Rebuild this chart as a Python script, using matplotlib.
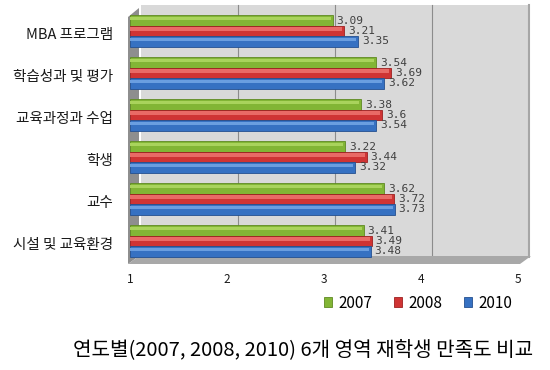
import matplotlib
matplotlib.use("Agg")
import matplotlib.pyplot as plt
import numpy as np
from matplotlib.patches import Polygon, Rectangle
import matplotlib.transforms as mtransforms

plt.rcParams['font.family'] = ['Noto Sans CJK KR', 'DejaVu Sans']

categories = ["MBA 프로그램", "학습성과 및 평가", "교육과정과 수업", "학생", "교수", "시설 및 교육환경"]
series_names = ["2007", "2008", "2010"]
v2007 = [3.09, 3.54, 3.38, 3.22, 3.62, 3.41]
v2008 = [3.21, 3.69, 3.60, 3.44, 3.72, 3.49]
v2010 = [3.35, 3.62, 3.54, 3.32, 3.73, 3.48]
label2007 = ["3.09", "3.54", "3.38", "3.22", "3.62", "3.41"]
label2008 = ["3.21", "3.69", "3.6", "3.44", "3.72", "3.49"]
label2010 = ["3.35", "3.62", "3.54", "3.32", "3.73", "3.48"]
xticks = [1, 2, 3, 4, 5]
caption = "연도별(2007, 2008, 2010) 6개 영역 재학생 만족도 비교"

base_colors = ["#82b535", "#cf3434", "#3671c2"]
light_colors = ["#a9d35c", "#e96a66", "#6a9ee0"]
dark_colors = ["#5f8a22", "#9e2020", "#24508f"]

W, H = 550, 370
fig = plt.figure(figsize=(W / 100, H / 100), dpi=100)
fig.patch.set_facecolor("white")

left_px, right_px = 130, 518
top_px, bot_px = 10, 262
ax = fig.add_axes([left_px / W, 1 - bot_px / H, (right_px - left_px) / W, (bot_px - top_px) / H])
ax.set_xlim(1, 5)
n = len(categories)
ax.set_ylim(n - 0.5, -0.5)
ax.axis("off")

# 3D offset for back wall
off = mtransforms.ScaledTranslation(11 / 100, 5 / 100, fig.dpi_scale_trans)
back = ax.transData + off
ax.add_patch(Rectangle((1, -0.5), 4, n, transform=back, facecolor="#d9d9d9",
                       edgecolor="none", zorder=0, clip_on=False))
ax.plot([5, 5], [-0.5, n - 0.5], transform=back, color="#a6a6a6", lw=1.5, zorder=0.5, clip_on=False)
for xv in xticks[1:-1]:
    ax.plot([xv, xv], [-0.5, n - 0.5], transform=back, color="#8c8c8c", lw=0.8, zorder=0.6, clip_on=False)

def px(x, y):
    return (x / W, 1 - y / H)

left_wall = Polygon([px(128, 17), px(139, 8), px(139, 256), px(128, 264)], closed=True,
                    transform=fig.transFigure, facecolor="#8e8e8e", edgecolor="none",
                    zorder=1, clip_on=False)
ax.add_patch(left_wall)
floor = Polygon([px(128, 264), px(139, 256), px(531, 256), px(520, 264)], closed=True,
                transform=fig.transFigure, facecolor="#a8a8a8", edgecolor="none",
                zorder=1, clip_on=False)
ax.add_patch(floor)

series = [v2007, v2008, v2010]
labels = [label2007, label2008, label2010]
offsets = [-0.25, 0.0, 0.25]
bh = 0.25
y = np.arange(n)
for k in range(3):
    yy = y + offsets[k]
    ax.barh(yy, np.array(series[k]) - 1, left=1, height=bh, color=base_colors[k],
            edgecolor=dark_colors[k], linewidth=0.6, zorder=3)
    ax.barh(yy - bh * 0.18, np.array(series[k]) - 1.02, left=1, height=bh * 0.35,
            color=light_colors[k], edgecolor="none", zorder=4)
    for i in range(n):
        ax.text(series[k][i] + 0.04, yy[i], labels[k][i], fontsize=8,
                family="DejaVu Sans Mono", color="#404040", va="center", ha="left", zorder=5)

# category labels
for i, c in enumerate(categories):
    ax.text(113 / W, 1 - (top_px + 21 + 42 * i + 4) / H, c, transform=fig.transFigure,
            ha="right", va="center", fontsize=10.5, color="#1a1a1a")

# x tick labels
for xv in xticks:
    ax.text(xv, -0.045, str(xv), transform=ax.get_xaxis_transform(), ha="center", va="top",
            fontsize=8.5, color="#1a1a1a")

# legend
handles = [Rectangle((0, 0), 1, 1, facecolor=base_colors[k], edgecolor=dark_colors[k], lw=0.6)
           for k in range(3)]
fig.legend(handles, series_names, loc="center", bbox_to_anchor=(418 / W, 1 - 303 / H),
           ncol=3, frameon=False, fontsize=11, handlelength=0.55, handleheight=0.55,
           handletextpad=0.4, columnspacing=1.4)

fig.text(533 / W, 1 - 350 / H, caption, ha="right", va="center", fontsize=14.5, color="black")

fig.savefig("out.png", dpi=100)
